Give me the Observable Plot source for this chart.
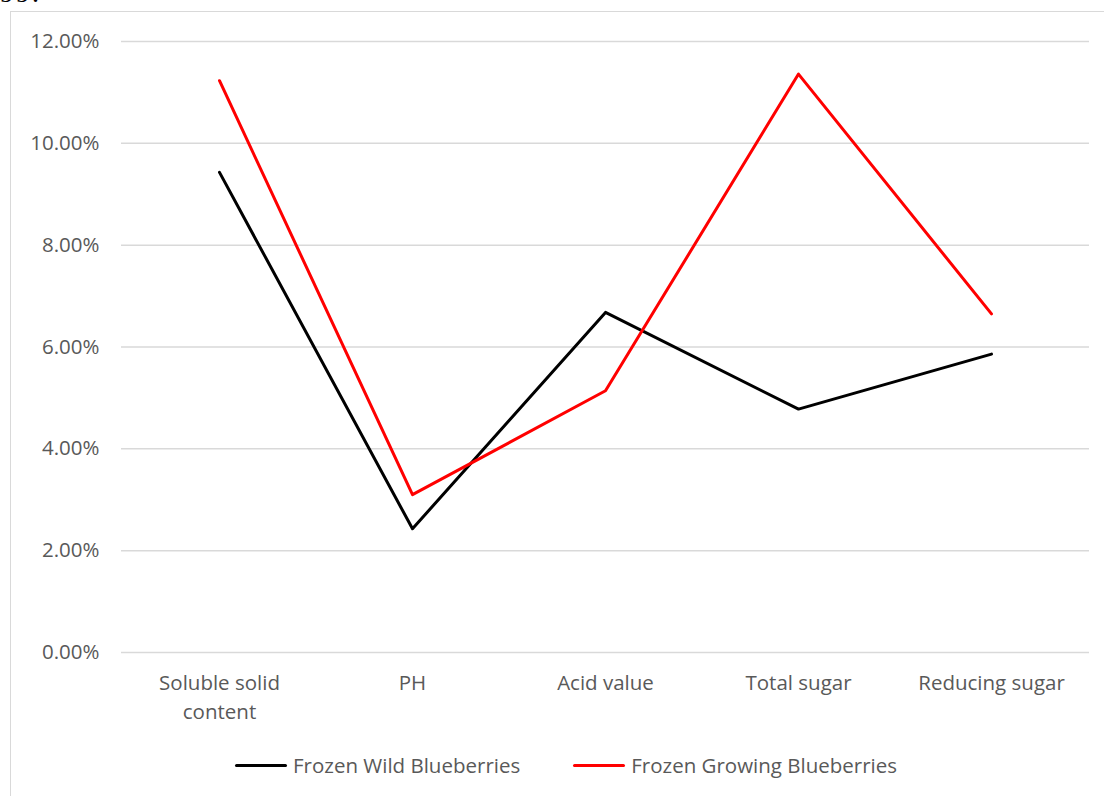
<!DOCTYPE html>
<html>
<head>
<meta charset="utf-8">
<script src="https://cdn.jsdelivr.net/npm/d3@7"></script>
<script src="https://cdn.jsdelivr.net/npm/@observablehq/plot@0.6"></script>
<style>
  html, body { margin: 0; padding: 0; background: #fff; }
  body {
    width: 1104px; height: 796px; overflow: hidden; position: relative;
    font-family: "Open Sans", sans-serif;
  }
  #above {
    position: absolute; left: 0px; top: -23px;
    font-family: "Liberation Serif", serif; font-size: 28px; color: #000;
    letter-spacing: 2px;
  }
  #frame {
    position: absolute; left: 10px; top: 11px; right: -10px; bottom: -10px;
    border-left: 1.5px solid #d9d9d9; border-top: 1.5px solid #d9d9d9;
    pointer-events: none;
  }
  #chart { position: relative; }
  #chart svg { display: block; }
  #legend {
    position: relative; height: 66px; box-sizing: border-box;
    padding-top: 23px; padding-left: 235px;
    display: flex; align-items: center; height: 66px;
    font-size: 20.5px; color: #595959; line-height: 24px;
  }
  #legend .item { display: flex; align-items: center; height: 24px; align-self: flex-start; }
  #legend .item + .item { margin-left: 53px; }
  #legend .swatch { width: 52px; height: 3px; margin-right: 6px; border-radius: 1.5px; }
</style>
</head>
<body>
<div id="above">99.</div>
<div id="frame"></div>
<div id="chart"></div>
<div id="legend"></div>
<script>
// Categories along the x axis and their drawn (wrapped) labels
const categories = ["Soluble solid content", "PH", "Acid value", "Total sugar", "Reducing sugar"];
const tickLabels = ["Soluble solid\ncontent", "PH", "Acid value", "Total sugar", "Reducing sugar"];

// Series
const seriesNames = ["Frozen Wild Blueberries", "Frozen Growing Blueberries"];
const seriesColors = ["#000000", "#ff0000"];
const wildValues = [0.0943, 0.0243, 0.0668, 0.0478, 0.0586];
const growingValues = [0.1123, 0.0310, 0.0514, 0.1136, 0.0665];

// Y axis ticks
const yTicks = [0, 0.02, 0.04, 0.06, 0.08, 0.10, 0.12];

const rows = [wildValues, growingValues].flatMap((vals, s) =>
  vals.map((v, i) => ({ category: categories[i], value: v, series: seriesNames[s] }))
);

const chart = Plot.plot({
  width: 1104,
  height: 730,
  marginTop: 41,
  marginBottom: 78,
  marginLeft: 121,
  marginRight: 15,
  style: {
    fontFamily: '"Open Sans", sans-serif',
    fontSize: "20.5px",
    color: "#595959",
    background: "transparent",
    overflow: "visible"
  },
  x: { type: "point", domain: categories, padding: 0.5 },
  y: { domain: [0, 0.12] },
  color: { domain: seriesNames, range: seriesColors },
  marks: [
    Plot.gridY(yTicks, { stroke: "#d9d9d9", strokeOpacity: 1, strokeWidth: 1.5 }),
    Plot.axisY(yTicks, {
      tickSize: 0, tickPadding: 22, tickFormat: d3.format(".2%"), label: null
    }),
    Plot.axisX({
      tickSize: 0, tickPadding: 17, lineHeight: 1.4, label: null,
      tickFormat: (d) => tickLabels[categories.indexOf(d)]
    }),
    Plot.line(rows, {
      x: "category", y: "value", z: "series", stroke: "series", strokeWidth: 3
    })
  ]
});
document.getElementById("chart").append(chart);

// Legend below the chart
const legend = document.getElementById("legend");
seriesNames.forEach((name, i) => {
  const item = document.createElement("div");
  item.className = "item";
  const sw = document.createElement("span");
  sw.className = "swatch";
  sw.style.background = seriesColors[i];
  const label = document.createElement("span");
  label.textContent = name;
  item.append(sw, label);
  legend.append(item);
});
</script>
</body>
</html>
